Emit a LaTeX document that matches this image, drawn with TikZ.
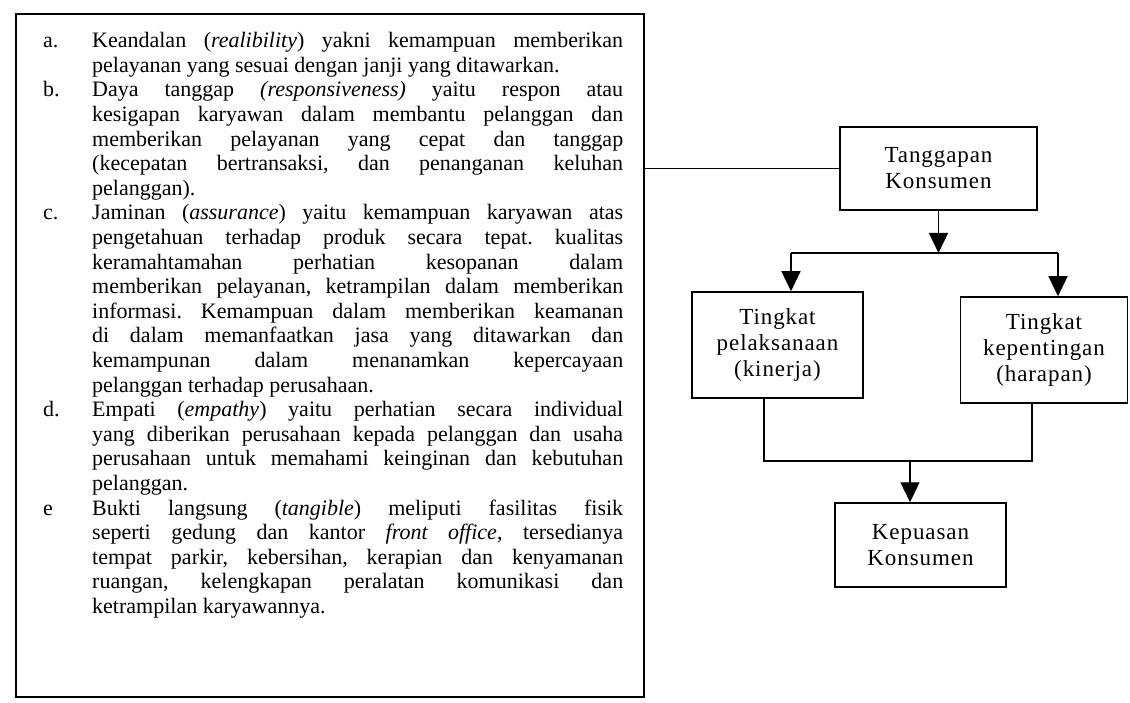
\documentclass[tikz,border=0pt]{standalone}
\usepackage{fontspec}
\setmainfont{Liberation Serif}
\newfontfamily\boxfont[LetterSpace=4]{Liberation Serif}
\usetikzlibrary{arrows.meta}
\frenchspacing
\newcommand{\listItem}[2]{\par\noindent\hangindent=49pt\hangafter=1\makebox[49pt][l]{#1}#2\par}
\tikzset{
	flowBox/.style={rectangle, draw, line width=1.5pt, inner sep=0pt, align=center, font=\boxfont\fontsize{23}{26}\selectfont},
	flowArrow/.style={-{Triangle[length=20pt,width=19pt]}, line width=1.3pt},
	flowLine/.style={line width=1.3pt}
}
\begin{document}
\begin{tikzpicture}[x=1pt,y=-1pt]
			\useasboundingbox (0,0) rectangle (1130,703);
			% list of the five dimensions
			\node[rectangle, draw, line width=1.5pt, minimum width=628pt, minimum height=683pt](listBox) at (330,355.5){};
			\node[anchor=north west, inner sep=0pt, text width=580pt, align=justify, font=\fontsize{22}{24.6}\selectfont](listText) at (43,23){%
				\listItem{a.}{Keandalan (\textit{realibility}) yakni kemampuan memberikan\linebreak pelayanan yang sesuai dengan janji yang ditawarkan.}%
				\listItem{b.}{Daya tanggap \textit{(responsiveness)} yaitu respon atau\linebreak kesigapan karyawan dalam membantu pelanggan dan\linebreak memberikan pelayanan yang cepat dan tanggap\linebreak (kecepatan bertransaksi, dan penanganan keluhan\linebreak pelanggan).}%
				\listItem{c.}{Jaminan (\textit{assurance}) yaitu kemampuan karyawan atas\linebreak pengetahuan terhadap produk secara tepat. kualitas\linebreak keramahtamahan perhatian kesopanan dalam\linebreak memberikan pelayanan, ketrampilan dalam memberikan\linebreak informasi. Kemampuan dalam memberikan keamanan\linebreak di dalam memanfaatkan jasa yang ditawarkan dan\linebreak kemampunan dalam menanamkan kepercayaan\linebreak pelanggan terhadap perusahaan.}%
				\listItem{d.}{Empati (\textit{empathy}) yaitu perhatian secara individual\linebreak yang diberikan perusahaan kepada pelanggan dan usaha\linebreak perusahaan untuk memahami keinginan dan kebutuhan\linebreak pelanggan.}%
				\listItem{e}{Bukti langsung (\textit{tangible}) meliputi fasilitas fisik\linebreak seperti gedung dan kantor \textit{front office}, tersedianya\linebreak tempat parkir, kebersihan, kerapian dan kenyamanan\linebreak ruangan, kelengkapan peralatan komunikasi dan\linebreak ketrampilan karyawannya.}%
			};

			% flow of the customer response
			\node[flowBox, minimum width=197pt, minimum height=83pt](tanggapan) at (938.5,168.5){Tanggapan\\Konsumen};
			\node[flowBox, minimum width=171pt, minimum height=106pt](pelaksanaan) at (777.5,345){Tingkat\\pelaksanaan\\(kinerja)};
			\node[flowBox, minimum width=167pt, minimum height=106pt](kepentingan) at (1044,350){Tingkat\\kepentingan\\(harapan)};
			\node[flowBox, minimum width=171pt, minimum height=84pt](kepuasan) at (920.5,545){Kepuasan\\Konsumen};

			\coordinate (splitL) at (791,253);
			\coordinate (splitR) at (1058,253);
			\coordinate (joinL) at (764,461);
			\coordinate (joinR) at (1032,461);
			\coordinate (join) at (910,461);

			\draw[flowLine] (listBox.east |- tanggapan.west) -- (tanggapan.west);
			\draw[flowArrow] (tanggapan.south) -- (tanggapan.south |- splitL);
			\draw[flowLine] (splitL) -- (splitR);
			\draw[flowArrow] (splitL) -- (splitL |- pelaksanaan.north);
			\draw[flowArrow] (splitR) -- (splitR |- kepentingan.north);
			\draw[flowLine] (pelaksanaan.south -| joinL) -- (joinL) -- (joinR) -- (kepentingan.south -| joinR);
			\draw[flowArrow] (join) -- (join |- kepuasan.north);
		\end{tikzpicture}
\end{document}
